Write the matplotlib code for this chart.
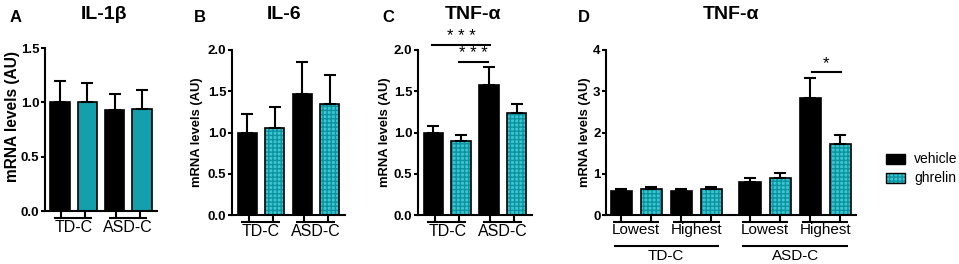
import matplotlib
matplotlib.use('Agg')
import matplotlib.pyplot as plt
import matplotlib.transforms as mtransforms
from matplotlib.patches import Rectangle
import numpy as np

plt.rcParams['font.family'] = ['Liberation Sans', 'DejaVu Sans']
plt.rcParams['hatch.linewidth'] = 1.0

W, H = 959, 264

# ---------------- data ----------------
groups_abc = ['TD-C', 'ASD-C']
il1b_vehicle = [1.00, 0.93]
il1b_vehicle_sem = [0.20, 0.15]
il1b_ghrelin = [1.00, 0.94]
il1b_ghrelin_sem = [0.18, 0.17]

il6_vehicle = [1.00, 1.47]
il6_vehicle_sem = [0.23, 0.38]
il6_ghrelin = [1.06, 1.35]
il6_ghrelin_sem = [0.25, 0.35]

tnf_vehicle = [1.00, 1.58]
tnf_vehicle_sem = [0.08, 0.22]
tnf_ghrelin = [0.90, 1.24]
tnf_ghrelin_sem = [0.07, 0.11]

d_groups = ['TD-C', 'ASD-C']
d_subgroups = ['Lowest', 'Highest']
d_vehicle = [0.59, 0.59, 0.81, 2.84]
d_vehicle_sem = [0.05, 0.04, 0.08, 0.49]
d_ghrelin = [0.62, 0.62, 0.89, 1.72]
d_ghrelin_sem = [0.07, 0.07, 0.12, 0.22]

series_names = ['vehicle', 'ghrelin']
titles = ['IL-1β', 'IL-6', 'TNF-α', 'TNF-α']
letters = ['A', 'B', 'C', 'D']

# ---------------- styles ----------------
BLACK = 'black'
TEAL_LIGHT = '#3cc6d0'
TEAL_GRID = '#0c92a0'
TEAL_PLAIN = '#139fac'

fig = plt.figure(figsize=(W / 100, H / 100), dpi=100)


def rect(x0, x1, ytop, ybot):
    return [x0 / W, (H - ybot) / H, (x1 - x0) / W, (ybot - ytop) / H]


def fy(ypix):
    return 1 - ypix / H


def style_axis(ax, ymax, step, fmt):
    for s in ['top', 'right']:
        ax.spines[s].set_visible(False)
    for s in ['left', 'bottom']:
        ax.spines[s].set_linewidth(1.5)
    ax.set_ylim(0, ymax)
    ax.set_yticks(np.arange(0, ymax + 1e-9, step))
    ax.set_yticklabels([fmt % v for v in np.arange(0, ymax + 1e-9, step)])
    ax.tick_params(axis='y', length=3, width=1.5, labelsize=9.5, pad=1)
    for lbl in ax.get_yticklabels():
        lbl.set_fontweight('bold')
    ax.set_xticks([])


def draw_bars(ax, xv, v, vs, xg, g, gs, width, hatched=True):
    ax.bar(xv, v, width=width, color=BLACK, edgecolor=BLACK, linewidth=1.2, zorder=2)
    if hatched:
        ax.bar(xg, g, width=width, color=TEAL_LIGHT, edgecolor=TEAL_GRID,
               linewidth=0, hatch='++++', zorder=2)
        ax.bar(xg, g, width=width, color='none', edgecolor=BLACK, linewidth=1.2, zorder=3)
    else:
        ax.bar(xg, g, width=width, color=TEAL_PLAIN, edgecolor=BLACK, linewidth=1.2, zorder=2)
    for x, m, s in [(xv, v, vs), (xg, g, gs)]:
        ax.errorbar(x, m, yerr=[np.zeros(len(m)), s], fmt='none', ecolor=BLACK,
                    elinewidth=1.5, capsize=4, capthick=1.5, zorder=4)


def hline_fig(ax, x0, x1, ypix, lw=1.5):
    tr = mtransforms.blended_transform_factory(ax.transData, fig.transFigure)
    ax.plot([x0, x1], [fy(ypix), fy(ypix)], color=BLACK, lw=lw, transform=tr,
            clip_on=False, solid_capstyle='butt')


def vline_fig(ax, x, y0pix, y1pix, lw=1.5):
    tr = mtransforms.blended_transform_factory(ax.transData, fig.transFigure)
    ax.plot([x, x], [fy(y0pix), fy(y1pix)], color=BLACK, lw=lw, transform=tr,
            clip_on=False, solid_capstyle='butt')


def text_fig(ax, x, ypix, s, size):
    tr = mtransforms.blended_transform_factory(ax.transData, fig.transFigure)
    ax.text(x, fy(ypix), s, transform=tr, ha='center', va='center', fontsize=size,
            clip_on=False)


# ---------------- panels A-C ----------------
abc_rects = [(45, 157, 48, 211), (232, 345, 50, 215), (418, 532, 50, 215)]
abc_data = [
    (il1b_vehicle, il1b_vehicle_sem, il1b_ghrelin, il1b_ghrelin_sem, 1.5),
    (il6_vehicle, il6_vehicle_sem, il6_ghrelin, il6_ghrelin_sem, 2.0),
    (tnf_vehicle, tnf_vehicle_sem, tnf_ghrelin, tnf_ghrelin_sem, 2.0),
]
ylabel_pos = [(13, 116, 11.2), (197, 132, 9.4), (385, 132, 9.4)]
axes = []
for i, ((x0, x1, yt, yb), (v, vs, g, gs, ymax)) in enumerate(zip(abc_rects, abc_data)):
    ax = fig.add_axes(rect(x0, x1, yt, yb))
    axes.append(ax)
    centers = np.arange(len(groups_abc)) * 2 + 0.5
    xv = centers - 0.5
    xg = centers + 0.5
    draw_bars(ax, xv, v, vs, xg, g, gs, 0.7, hatched=(i != 0))
    ax.set_xlim(-0.55, 3.55)
    style_axis(ax, ymax, 0.5, '%.1f')
    for c, name in zip(centers, groups_abc):
        vline_fig(ax, c - 0.45, yb, yb + 7)
        vline_fig(ax, c + 0.42, yb, yb + 7)
        hline_fig(ax, c - 0.72, c + 0.68, yb + 7)
        text_fig(ax, c, yb + 17, name, 11.5)
    lx, ly, ls = ylabel_pos[i]
    fig.text(lx / W, fy(ly), 'mRNA levels (AU)', rotation=90, ha='center',
             va='center', fontsize=ls, fontweight='bold')

# significance in C
axC = axes[2]
axC.plot([-0.05, 2.05], [2.06, 2.06], color=BLACK, lw=1.5, clip_on=False)
axC.text(1.0, 2.075, '* * *', ha='center', va='bottom', fontsize=12, clip_on=False)
axC.plot([0.93, 1.95], [1.855, 1.855], color=BLACK, lw=1.5, clip_on=False)
axC.text(1.44, 1.87, '* * *', ha='center', va='bottom', fontsize=12, clip_on=False)

# ---------------- panel D ----------------
axD = fig.add_axes(rect(606, 856, 50, 215))
gap = 0.28
sub_centers = np.array([0.5, 2.5, 4.5 + gap, 6.5 + gap])
xv = sub_centers - 0.5
xg = sub_centers + 0.5
draw_bars(axD, xv, d_vehicle, d_vehicle_sem, xg, d_ghrelin, d_ghrelin_sem, 0.7)
axD.set_xlim(-0.5, 7.8)
style_axis(axD, 4, 1, '%d')
for k, c in enumerate(sub_centers):
    vline_fig(axD, c - 0.5, 215, 222)
    vline_fig(axD, c + 0.5, 215, 222)
    hline_fig(axD, c - 0.77, c + 0.77, 222)
    text_fig(axD, c, 230, d_subgroups[k % 2], 11)
for j, name in enumerate(d_groups):
    a = sub_centers[2 * j] - 0.5
    b = sub_centers[2 * j + 1] + 0.5
    hline_fig(axD, a - 0.25, b + 0.25, 246)
    text_fig(axD, (a + b) / 2, 256, name, 11)
fig.text(585 / W, fy(132), 'mRNA levels (AU)', rotation=90, ha='center',
         va='center', fontsize=9.4, fontweight='bold')
axD.plot([6.33, 7.3], [3.47, 3.47], color=BLACK, lw=1.5, clip_on=False)
axD.text(6.8, 3.5, '*', ha='center', va='bottom', fontsize=12, clip_on=False)

# ---------------- titles and letters ----------------
title_x = [103.5, 284.5, 473, 731]
letter_x = [10, 194, 382, 578]
for t, tx, l, lx in zip(titles, title_x, letters, letter_x):
    fig.text(tx / W, fy(19), t, ha='center', va='baseline', fontsize=14,
             fontweight='bold')
    fig.text(lx / W, fy(22), l, ha='left', va='baseline', fontsize=12,
             fontweight='bold')

# ---------------- legend ----------------
fig.add_artist(Rectangle((886 / W, fy(164)), 19 / W, 10 / H, transform=fig.transFigure,
                         facecolor=BLACK, edgecolor=BLACK, lw=1))
fig.add_artist(Rectangle((886 / W, fy(183)), 19 / W, 10 / H, transform=fig.transFigure,
                         facecolor=TEAL_LIGHT, edgecolor=TEAL_GRID, lw=0, hatch='++++'))
fig.add_artist(Rectangle((886 / W, fy(183)), 19 / W, 10 / H, transform=fig.transFigure,
                         facecolor='none', edgecolor=BLACK, lw=1))
fig.text(914 / W, fy(159), series_names[0], ha='left', va='center', fontsize=10)
fig.text(914 / W, fy(178), series_names[1], ha='left', va='center', fontsize=10)

fig.savefig('out.png', dpi=100)
